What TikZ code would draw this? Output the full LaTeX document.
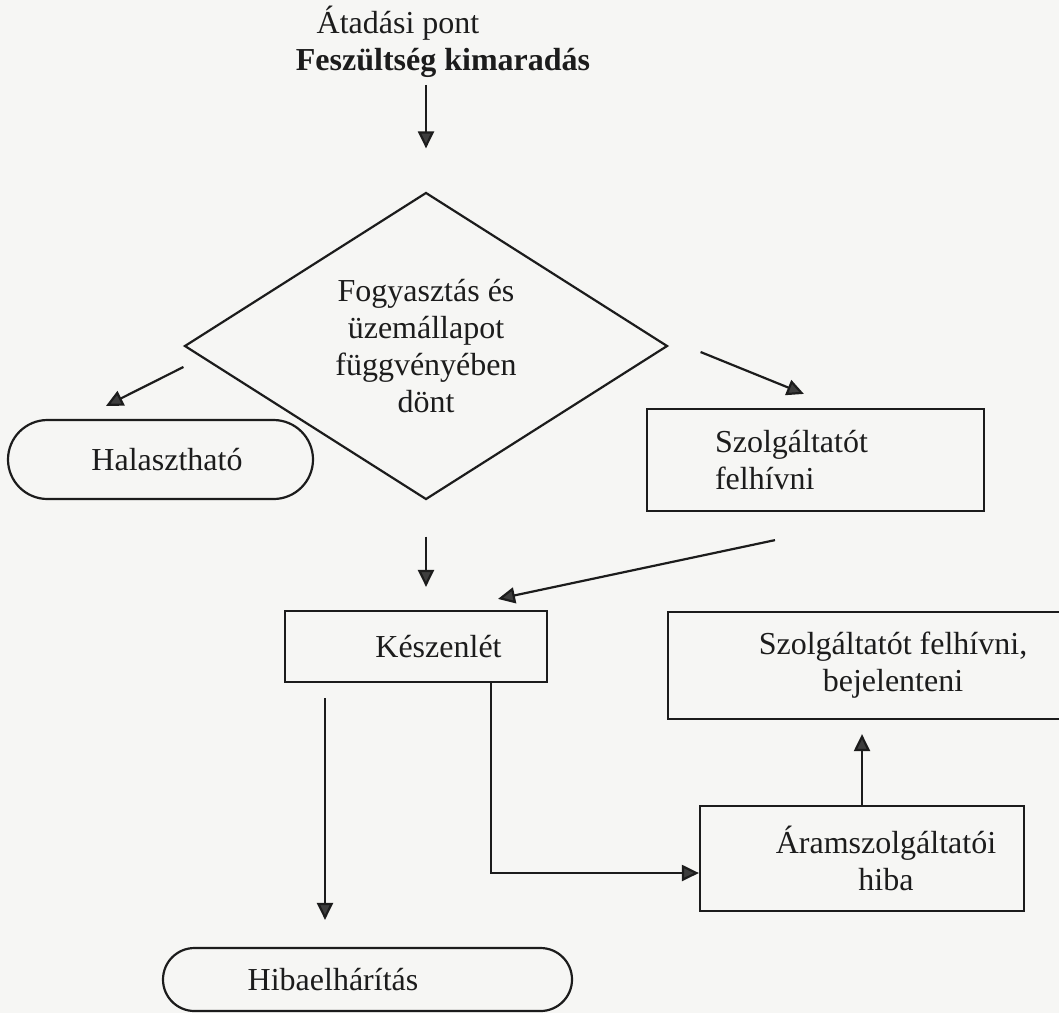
\documentclass[tikz,border=0pt]{standalone}
\usepackage{fontspec}
\setmainfont{Liberation Serif}
\usetikzlibrary{arrows.meta,positioning,shapes.geometric,shapes.misc}
\definecolor{scan}{RGB}{246,246,244}
\definecolor{ink}{RGB}{28,28,28}

\begin{document}
\begin{tikzpicture}[x=0.5pt,y=-0.5pt,>={Triangle[length=8.5pt,width=8pt,fill=ink!85]},line width=1.1pt,
    every node/.style={font=\fontsize{16}{18.5}\selectfont,text=ink},
    proc/.style={draw=ink,rectangle,inner sep=0pt},
    term/.style={draw=ink,rounded rectangle,inner sep=0pt},
    dec/.style={draw=ink,diamond,inner sep=0pt,align=center},
    flow/.style={->,draw=ink}]
    \useasboundingbox[fill=scan] (0,0) rectangle (1059,1013);

    \node[anchor=base]                        (atad)   at (398,33)      {Átadási pont};
    \node[anchor=base,font=\fontsize{16}{18.5}\selectfont\bfseries]
                                              (fesz)   at (443,70)      {Feszültség kimaradás};
    \node[dec,minimum width=241.5pt,minimum height=153.5pt,aspect=1.57]
                                              (dontes) at (426,346)     {Fogyasztás és\\üzemállapot\\függvényében\\dönt};
    \node[term,minimum width=152.5pt,minimum height=39.5pt]
                                              (halaszt) at (160.5,459.5) {\hspace*{6.5pt}Halasztható};
    \node[proc,align=left,text width=100.5pt,inner xsep=34pt,minimum height=51pt]
                                              (szolg)  at (815.5,460)   {Szolgáltatót\\felhívni};
    \node[proc,minimum width=131pt,minimum height=35.5pt]
                                              (keszen) at (416,646.5)   {\hspace*{22.5pt}Készenlét};
    \node[proc,align=center,minimum width=225pt,minimum height=53.5pt]
                                              (bejel)  at (893,665.5)   {Szolgáltatót felhívni,\\bejelenteni};
    \node[proc,align=center,minimum width=162pt,minimum height=52.5pt]
                                              (aram)   at (862,858.5)   {\hspace*{24pt}Áramszolgáltatói\\\hspace*{24pt}hiba};
    \node[term,minimum width=204.5pt,minimum height=31.5pt]
                                              (hibael) at (367.5,979.5) {Hibaelhárítás\hspace*{34.5pt}};

    \coordinate (k1) at ([xshift=-45.5pt]keszen.south);

    \draw[flow,shorten >=21.5pt] (fesz.south -| dontes.north) -- (dontes.north);
    \draw[flow] ([yshift=-10.5pt]dontes.west) -- ([xshift=-27.25pt,yshift=6.5pt]halaszt.north);
    \draw[flow] ([xshift=16pt,yshift=-3pt]dontes.east) -- ([xshift=79pt,yshift=7pt]szolg.north west);
    \draw[flow,shorten <=18pt,shorten >=11.5pt] (dontes.south) -- (dontes.south |- keszen.north);
    \draw[flow] ([xshift=-20.25pt,yshift=-14pt]szolg.south) -- ([xshift=41pt,yshift=5.5pt]keszen.north);
    \draw[flow,shorten <=7.5pt,shorten >=13.5pt] (k1) -- (k1 |- hibael.north);
    \draw[flow] ([xshift=37.5pt]keszen.south) |- ([yshift=-7.25pt]aram.west);
    \draw[flow,shorten >=7pt] (aram.north) -- (aram.north |- bejel.south);
\end{tikzpicture}
\end{document}
